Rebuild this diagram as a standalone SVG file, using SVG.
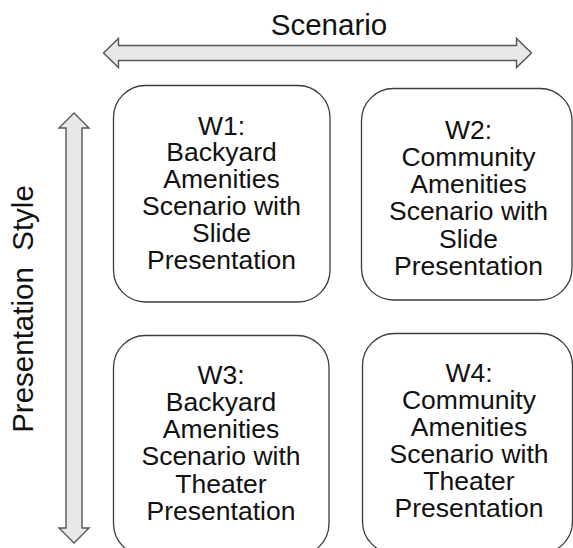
<svg xmlns="http://www.w3.org/2000/svg" width="573" height="548" viewBox="0 0 573 548">
<style>
.box{fill:#ffffff;stroke:#3c3c3c;stroke-width:1.3}
.arrow{fill:#e8e8e8;stroke:#555555;stroke-width:1.4;stroke-linejoin:miter}
.t{font-family:"Liberation Sans",Arial,sans-serif;font-size:26.5px;fill:#111111;text-anchor:middle}
.ax{font-family:"Liberation Sans",Arial,sans-serif;font-size:29.5px;fill:#111111;text-anchor:middle;white-space:pre}
</style>
<rect width="573" height="548" fill="#ffffff"/>
<g id="connectors">
<polygon class="arrow" points="103.5,53 118.5,38.5 118.5,45.5 516.5,45.5 516.5,38.5 531.5,53 516.5,67.5 516.5,60.5 118.5,60.5 118.5,67.5"/>
<polygon class="arrow" points="74,113 89,128 82,128 82,528 89,528 74,543 59,528 66,528 66,128 59,128"/>
</g>
<g id="label-scenario"><text class="ax" x="329" y="35">Scenario</text></g>
<g id="label-style"><text class="ax" transform="translate(33,309) rotate(-90)" x="0" y="0">Presentation  Style</text></g>
<g id="W1">
<rect class="box" x="113.5" y="85.5" width="216.5" height="216.5" rx="32"/>
<text class="t" x="221.5" y="134.5">W1:<tspan x="221.5" dy="26.9">Backyard</tspan><tspan x="221.5" dy="26.9">Amenities</tspan><tspan x="221.5" dy="26.9">Scenario with</tspan><tspan x="221.5" dy="26.9">Slide</tspan><tspan x="221.5" dy="26.9">Presentation</tspan></text>
</g>
<g id="W2">
<rect class="box" x="361.5" y="88.5" width="210.5" height="211.5" rx="32"/>
<text class="t" x="468.5" y="138.5">W2:<tspan x="468.5" dy="27.3">Community</tspan><tspan x="468.5" dy="27.3">Amenities</tspan><tspan x="468.5" dy="27.3">Scenario with</tspan><tspan x="468.5" dy="27.3">Slide</tspan><tspan x="468.5" dy="27.3">Presentation</tspan></text>
</g>
<g id="W3">
<rect class="box" x="113.5" y="335.5" width="215.5" height="220" rx="32"/>
<text class="t" x="221" y="383.5">W3:<tspan x="221" dy="27.3">Backyard</tspan><tspan x="221" dy="27.3">Amenities</tspan><tspan x="221" dy="27.3">Scenario with</tspan><tspan x="221" dy="27.3">Theater</tspan><tspan x="221" dy="27.3">Presentation</tspan></text>
</g>
<g id="W4">
<rect class="box" x="362.5" y="333.5" width="210" height="220" rx="32"/>
<text class="t" x="469" y="381.7">W4:<tspan x="469" dy="27">Community</tspan><tspan x="469" dy="27">Amenities</tspan><tspan x="469" dy="27">Scenario with</tspan><tspan x="469" dy="27">Theater</tspan><tspan x="469" dy="27">Presentation</tspan></text>
</g>
</svg>
